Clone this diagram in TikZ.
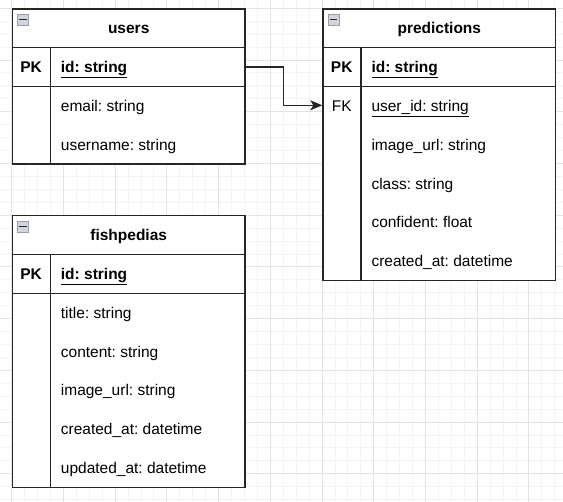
\documentclass[tikz,border=0pt]{standalone}
\usepackage{fontspec}
\setmainfont{Liberation Sans}
\usetikzlibrary{arrows.meta}
\definecolor{minorgrid}{HTML}{F4F4F4}
\definecolor{majorgrid}{HTML}{E4E4E4}
\definecolor{ink}{HTML}{262626}
\definecolor{iconfill}{HTML}{D3D5DD}
\definecolor{iconedge}{HTML}{9A9DA8}
\begin{document}
\frenchspacing
\begin{tikzpicture}[x=1pt,y=-1pt,
  font=\fontsize{15.5}{18}\selectfont\frenchspacing,
  tline/.style={draw=ink, line width=1.3pt},
  tbox/.style={rectangle, draw=ink, line width=1.3pt, minimum width=232.7pt, inner sep=0pt, anchor=north west},
  titlebox/.style={tbox, minimum height=38.8pt, font=\fontsize{15.5}{18}\selectfont\bfseries, text height=11pt, text depth=0pt},
  keytext/.style={inner sep=0pt, text height=11pt, text depth=0pt, anchor=center},
  fieldtext/.style={inner sep=0pt, text height=11pt, text depth=0pt, anchor=west},
  icon/.style={rectangle, draw=iconedge, fill=iconfill, line width=0.8pt, minimum size=11pt, inner sep=0pt, anchor=north west},
  conn/.style={draw=ink, line width=1.3pt, -{Stealth[length=12pt,width=10pt,inset=3pt]}}
]
\useasboundingbox (0,0) rectangle (563,502);
\fill[white] (0,0) rectangle (563,502);
% grid
\foreach \i in {-1,...,43} {
  \pgfmathsetmacro\gx{11.7+\i*12.93}
  \draw[minorgrid, line width=0.9pt] (\gx,0) -- (\gx,502);
}
\foreach \i in {-1,...,38} {
  \pgfmathsetmacro\gy{8.3+\i*12.93}
  \draw[minorgrid, line width=0.9pt] (0,\gy) -- (563,\gy);
}
\foreach \i in {0,...,10} {
  \pgfmathsetmacro\gx{11.7+\i*51.72}
  \draw[majorgrid, line width=0.9pt] (\gx,0) -- (\gx,502);
}
\foreach \i in {0,...,9} {
  \pgfmathsetmacro\gy{8.3+\i*51.72}
  \draw[majorgrid, line width=0.9pt] (0,\gy) -- (563,\gy);
}

% ---------- users ----------
\node[titlebox, fill=white] (users-title) at (11.7,8.3) {users};
\node[tbox, fill=white, minimum height=38.8pt] (users-pk) at (11.7,47.1) {};
\node[tbox, fill=white, minimum height=77.6pt] (users-body) at (11.7,85.9) {};
\draw[tline] ([xshift=38.8pt]users-pk.north west) -- ([xshift=38.8pt]users-body.south west);
\node[icon] (users-icon) at (17.2,13.8) {};
\draw[ink, line width=1.5pt] ([xshift=2.2pt]users-icon.west) -- ([xshift=-2.2pt]users-icon.east);
\node[keytext, font=\fontsize{15.5}{18}\selectfont\bfseries] (users-pkkey) at (31.1,67.2) {PK};
\node[fieldtext] (users-id) at (60.7,67.2) {\textbf{\underline{id: string}}};
\node[fieldtext] (users-email) at (60.7,106.0) {email: string};
\node[fieldtext] (users-username) at (60.7,144.8) {username: string};

% ---------- predictions ----------
\node[titlebox, fill=white] (pred-title) at (322.3,8.3) {predictions};
\node[tbox, fill=white, minimum height=38.8pt] (pred-pk) at (322.3,47.1) {};
\node[tbox, fill=white, minimum height=194pt] (pred-body) at (322.3,85.9) {};
\draw[tline] ([xshift=38.8pt]pred-pk.north west) -- ([xshift=38.8pt]pred-body.south west);
\node[icon] (pred-icon) at (327.8,13.8) {};
\draw[ink, line width=1.5pt] ([xshift=2.2pt]pred-icon.west) -- ([xshift=-2.2pt]pred-icon.east);
\node[keytext, font=\fontsize{15.5}{18}\selectfont\bfseries] (pred-pkkey) at (341.7,67.2) {PK};
\node[fieldtext] (pred-id) at (371.3,67.2) {\textbf{\underline{id: string}}};
\node[rectangle, inner sep=0pt, minimum width=232.7pt, minimum height=38.8pt, anchor=west] (pred-fk) at (322.3,105.3) {};
\node[keytext] (pred-fkkey) at (341.7,106.0) {FK};
\node[fieldtext] (pred-userid) at (371.3,106.0) {\underline{user\_id: string}};
\node[fieldtext] (pred-image) at (371.3,144.8) {image\_url: string};
\node[fieldtext] (pred-class) at (371.3,183.6) {class: string};
\node[fieldtext] (pred-conf) at (371.3,222.4) {confident: float};
\node[fieldtext] (pred-created) at (371.3,261.2) {created\_at: datetime};

% ---------- fishpedias ----------
\node[titlebox, fill=white] (fish-title) at (11.7,215.2) {fishpedias};
\node[tbox, fill=white, minimum height=38.8pt] (fish-pk) at (11.7,254.0) {};
\node[tbox, fill=white, minimum height=194pt] (fish-body) at (11.7,292.8) {};
\draw[tline] ([xshift=38.8pt]fish-pk.north west) -- ([xshift=38.8pt]fish-body.south west);
\node[icon] (fish-icon) at (17.2,220.7) {};
\draw[ink, line width=1.5pt] ([xshift=2.2pt]fish-icon.west) -- ([xshift=-2.2pt]fish-icon.east);
\node[keytext, font=\fontsize{15.5}{18}\selectfont\bfseries] (fish-pkkey) at (31.1,274.1) {PK};
\node[fieldtext] (fish-id) at (60.7,274.1) {\textbf{\underline{id: string}}};
\node[fieldtext] (fish-title-f) at (60.7,312.9) {title: string};
\node[fieldtext] (fish-content) at (60.7,351.7) {content: string};
\node[fieldtext] (fish-image) at (60.7,390.5) {image\_url: string};
\node[fieldtext] (fish-created) at (60.7,429.3) {created\_at: datetime};
\node[fieldtext] (fish-updated) at (60.7,468.1) {updated\_at: datetime};

% ---------- connector ----------
\coordinate (bendx) at (283.3,0);
\draw[conn] (users-pk.east) -- (bendx |- users-pk.east) |- (pred-fk.west);
\end{tikzpicture}
\end{document}
